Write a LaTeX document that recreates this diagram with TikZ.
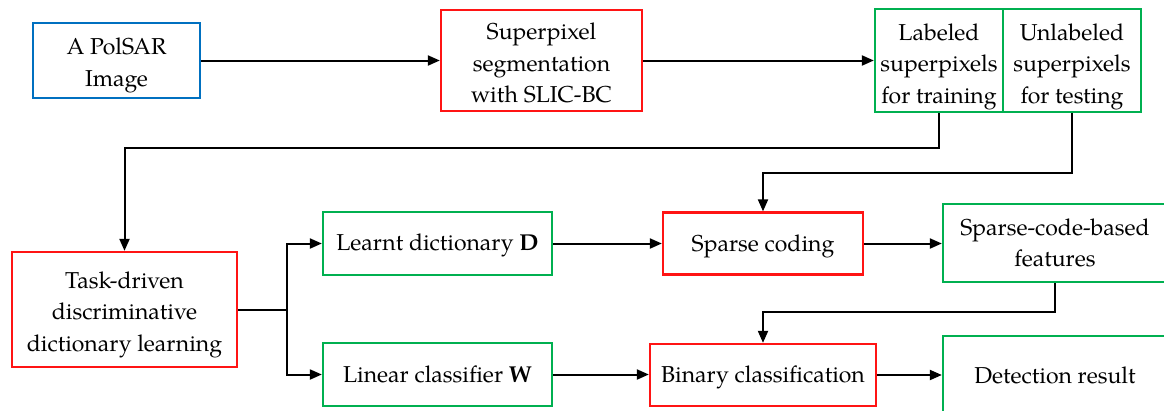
\documentclass[tikz,border=0pt]{standalone}
\usepackage{fontspec}
\setmainfont{TeX Gyre Pagella}
\usetikzlibrary{arrows.meta}
\definecolor{bblue}{RGB}{0,112,192}
\definecolor{rred}{RGB}{255,20,20}
\definecolor{ggreen}{RGB}{0,176,80}
\begin{document}
\begin{tikzpicture}[x=1pt,y=-1pt,
  box/.style={draw,line width=2.3pt,rectangle,inner sep=0pt},
  bluebox/.style={box,draw=bblue},
  redbox/.style={box,draw=rred},
  greenbox/.style={box,draw=ggreen},
  txt/.style={inner sep=0pt,align=center,font=\fontsize{23}{31.5}\selectfont},
  conn/.style={line width=2pt,-{Triangle[length=12pt,width=10pt]}},
  plain/.style={line width=2pt}]
\useasboundingbox (0,0) rectangle (1164,410);
% boxes
\node[bluebox,minimum width=167pt,minimum height=75pt] (img) at (116.5,60.5) {};
\node[redbox,minimum width=201pt,minimum height=101pt] (seg) at (541.5,60.5) {};
\node[greenbox,minimum width=128pt,minimum height=103pt] (lab) at (939,60.5) {};
\node[greenbox,minimum width=138pt,minimum height=103pt] (unl) at (1072,60.5) {};
\node[redbox,minimum width=225pt,minimum height=115pt] (task) at (124.5,309.5) {};
\node[greenbox,minimum width=229pt,minimum height=63pt] (dict) at (437.5,243.5) {};
\node[greenbox,minimum width=229pt,minimum height=63pt] (lin) at (437.5,374.5) {};
\node[redbox,minimum width=200pt,minimum height=62pt] (sc) at (763,243.5) {};
\node[greenbox,minimum width=224pt,minimum height=78pt] (feat) at (1055,243) {};
\node[redbox,minimum width=226pt,minimum height=62pt] (bin) at (763,375) {};
\node[greenbox,minimum width=224pt,minimum height=78pt] (det) at (1055,375) {};
% texts
\node[txt] (imgT) at ([yshift=-5pt]img.center) {A PolSAR\\Image};
\node[txt] (segT) at ([yshift=-2.5pt]seg.center) {Superpixel\\segmentation\\with SLIC-BC};
\node[txt] (labT) at ([yshift=-6pt]lab.center) {Labeled\\superpixels\\for training};
\node[txt] (unlT) at ([yshift=-6pt]unl.center) {Unlabeled\\superpixels\\for testing};
\node[txt] (taskT) at ([yshift=-5pt]task.center) {Task-driven\\discriminative\\dictionary learning};
\node[txt] (dictT) at ([yshift=-2pt]dict.center) {Learnt dictionary \textbf{D}};
\node[txt] (linT) at (lin.center) {Linear classifier \textbf{W}};
\node[txt] (scT) at ([yshift=-3pt]sc.center) {Sparse coding};
\node[txt] (featT) at (feat.center) {Sparse-code-based\\features};
\node[txt] (binT) at ([yshift=-2pt]bin.center) {Binary classification};
\node[txt] (detT) at (det.center) {Detection result};
% connectors
\coordinate (br) at (287,309.5);
\draw[conn] (img.east) -- (seg.west);
\draw[conn] (seg.east) -- (lab.west);
\draw[conn] (lab.south) -- (939,148) -| (task.north);
\draw[conn] (unl.south) -- (1072,173) -| (sc.north);
\draw[plain] (task.east) -- (br);
\draw[conn] (br) |- (dict.west);
\draw[conn] (br) |- (lin.west);
\draw[conn] (dict.east) -- (sc.west);
\draw[conn] (sc.east) -- (sc.east -| feat.west);
\draw[conn] (feat.south) -- (1055,312) -| (bin.north);
\draw[conn] (lin.east) -- (lin.east -| bin.west);
\draw[conn] (bin.east) -- (det.west);
\end{tikzpicture}
\end{document}
